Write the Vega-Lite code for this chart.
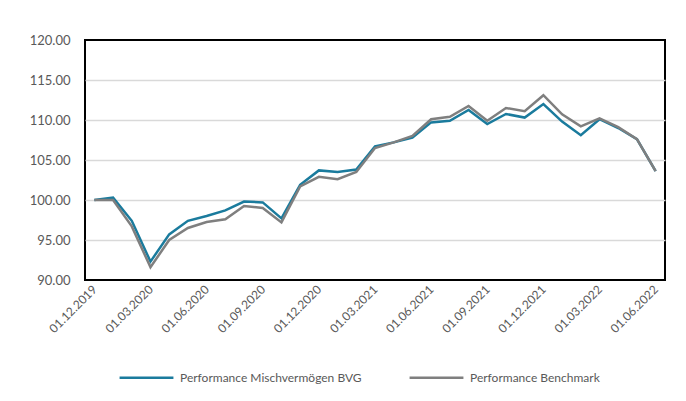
{
  "$schema": "https://vega.github.io/schema/vega-lite/v6.json",
  "width": 580,
  "height": 240,
  "autosize": "none",
  "padding": {"left": 85, "top": 40, "right": 21, "bottom": 121},
  "background": "white",
  "view": {"stroke": "#000000", "strokeWidth": 2},
  "config": {
    "font": "Lato",
    "view": {"stroke": "#000000", "strokeWidth": 2},
    "axis": {"labelFont": "Lato", "labelFontSize": 13, "labelColor": "#595959"},
    "legend": {"labelFont": "Lato", "labelFontSize": 12, "labelColor": "#595959"}
  },
  "data": {
    "values": [
      {"Datum": "01.12.2019", "Serie": "Performance Mischvermögen BVG", "Wert": 100.0},
      {"Datum": "01.01.2020", "Serie": "Performance Mischvermögen BVG", "Wert": 100.3},
      {"Datum": "01.02.2020", "Serie": "Performance Mischvermögen BVG", "Wert": 97.4},
      {"Datum": "01.03.2020", "Serie": "Performance Mischvermögen BVG", "Wert": 92.3},
      {"Datum": "01.04.2020", "Serie": "Performance Mischvermögen BVG", "Wert": 95.7},
      {"Datum": "01.05.2020", "Serie": "Performance Mischvermögen BVG", "Wert": 97.4},
      {"Datum": "01.06.2020", "Serie": "Performance Mischvermögen BVG", "Wert": 98.0},
      {"Datum": "01.07.2020", "Serie": "Performance Mischvermögen BVG", "Wert": 98.7},
      {"Datum": "01.08.2020", "Serie": "Performance Mischvermögen BVG", "Wert": 99.8},
      {"Datum": "01.09.2020", "Serie": "Performance Mischvermögen BVG", "Wert": 99.7},
      {"Datum": "01.10.2020", "Serie": "Performance Mischvermögen BVG", "Wert": 97.7},
      {"Datum": "01.11.2020", "Serie": "Performance Mischvermögen BVG", "Wert": 101.9},
      {"Datum": "01.12.2020", "Serie": "Performance Mischvermögen BVG", "Wert": 103.7},
      {"Datum": "01.01.2021", "Serie": "Performance Mischvermögen BVG", "Wert": 103.5},
      {"Datum": "01.02.2021", "Serie": "Performance Mischvermögen BVG", "Wert": 103.8},
      {"Datum": "01.03.2021", "Serie": "Performance Mischvermögen BVG", "Wert": 106.7},
      {"Datum": "01.04.2021", "Serie": "Performance Mischvermögen BVG", "Wert": 107.2},
      {"Datum": "01.05.2021", "Serie": "Performance Mischvermögen BVG", "Wert": 107.8},
      {"Datum": "01.06.2021", "Serie": "Performance Mischvermögen BVG", "Wert": 109.7},
      {"Datum": "01.07.2021", "Serie": "Performance Mischvermögen BVG", "Wert": 109.9},
      {"Datum": "01.08.2021", "Serie": "Performance Mischvermögen BVG", "Wert": 111.25},
      {"Datum": "01.09.2021", "Serie": "Performance Mischvermögen BVG", "Wert": 109.5},
      {"Datum": "01.10.2021", "Serie": "Performance Mischvermögen BVG", "Wert": 110.75},
      {"Datum": "01.11.2021", "Serie": "Performance Mischvermögen BVG", "Wert": 110.3},
      {"Datum": "01.12.2021", "Serie": "Performance Mischvermögen BVG", "Wert": 112.0},
      {"Datum": "01.01.2022", "Serie": "Performance Mischvermögen BVG", "Wert": 109.8},
      {"Datum": "01.02.2022", "Serie": "Performance Mischvermögen BVG", "Wert": 108.1},
      {"Datum": "01.03.2022", "Serie": "Performance Mischvermögen BVG", "Wert": 110.1},
      {"Datum": "01.04.2022", "Serie": "Performance Mischvermögen BVG", "Wert": 109.0},
      {"Datum": "01.05.2022", "Serie": "Performance Mischvermögen BVG", "Wert": 107.6},
      {"Datum": "01.06.2022", "Serie": "Performance Mischvermögen BVG", "Wert": 103.6},
      {"Datum": "01.12.2019", "Serie": "Performance Benchmark", "Wert": 100.0},
      {"Datum": "01.01.2020", "Serie": "Performance Benchmark", "Wert": 100.0},
      {"Datum": "01.02.2020", "Serie": "Performance Benchmark", "Wert": 96.7},
      {"Datum": "01.03.2020", "Serie": "Performance Benchmark", "Wert": 91.6},
      {"Datum": "01.04.2020", "Serie": "Performance Benchmark", "Wert": 95.0},
      {"Datum": "01.05.2020", "Serie": "Performance Benchmark", "Wert": 96.5},
      {"Datum": "01.06.2020", "Serie": "Performance Benchmark", "Wert": 97.25},
      {"Datum": "01.07.2020", "Serie": "Performance Benchmark", "Wert": 97.6},
      {"Datum": "01.08.2020", "Serie": "Performance Benchmark", "Wert": 99.25},
      {"Datum": "01.09.2020", "Serie": "Performance Benchmark", "Wert": 99.0},
      {"Datum": "01.10.2020", "Serie": "Performance Benchmark", "Wert": 97.2},
      {"Datum": "01.11.2020", "Serie": "Performance Benchmark", "Wert": 101.7},
      {"Datum": "01.12.2020", "Serie": "Performance Benchmark", "Wert": 102.9},
      {"Datum": "01.01.2021", "Serie": "Performance Benchmark", "Wert": 102.6},
      {"Datum": "01.02.2021", "Serie": "Performance Benchmark", "Wert": 103.5},
      {"Datum": "01.03.2021", "Serie": "Performance Benchmark", "Wert": 106.5},
      {"Datum": "01.04.2021", "Serie": "Performance Benchmark", "Wert": 107.2},
      {"Datum": "01.05.2021", "Serie": "Performance Benchmark", "Wert": 108.0},
      {"Datum": "01.06.2021", "Serie": "Performance Benchmark", "Wert": 110.1},
      {"Datum": "01.07.2021", "Serie": "Performance Benchmark", "Wert": 110.4},
      {"Datum": "01.08.2021", "Serie": "Performance Benchmark", "Wert": 111.75},
      {"Datum": "01.09.2021", "Serie": "Performance Benchmark", "Wert": 109.9},
      {"Datum": "01.10.2021", "Serie": "Performance Benchmark", "Wert": 111.5},
      {"Datum": "01.11.2021", "Serie": "Performance Benchmark", "Wert": 111.1},
      {"Datum": "01.12.2021", "Serie": "Performance Benchmark", "Wert": 113.1},
      {"Datum": "01.01.2022", "Serie": "Performance Benchmark", "Wert": 110.7},
      {"Datum": "01.02.2022", "Serie": "Performance Benchmark", "Wert": 109.2},
      {"Datum": "01.03.2022", "Serie": "Performance Benchmark", "Wert": 110.2},
      {"Datum": "01.04.2022", "Serie": "Performance Benchmark", "Wert": 109.1},
      {"Datum": "01.05.2022", "Serie": "Performance Benchmark", "Wert": 107.6},
      {"Datum": "01.06.2022", "Serie": "Performance Benchmark", "Wert": 103.6}
    ]
  },
  "mark": {"type": "line", "strokeWidth": 2.5, "strokeJoin": "miter"},
  "encoding": {
    "x": {
      "field": "Datum",
      "type": "ordinal",
      "sort": null,
      "scale": {"type": "point", "padding": 0.5},
      "axis": {
        "title": null,
        "values": ["01.12.2019", "01.03.2020", "01.06.2020", "01.09.2020", "01.12.2020", "01.03.2021", "01.06.2021", "01.09.2021", "01.12.2021", "01.03.2022", "01.06.2022"],
        "labelAngle": -45,
        "labelAlign": "right",
        "labelBaseline": "middle",
        "labelPadding": 7,
        "labelFontSize": 12,
        "ticks": false,
        "domain": false,
        "grid": false
      }
    },
    "y": {
      "field": "Wert",
      "type": "quantitative",
      "scale": {"domain": [90, 120], "nice": false, "zero": false},
      "axis": {
        "title": null,
        "values": [90, 95, 100, 105, 110, 115, 120],
        "format": ".2f",
        "ticks": false,
        "domain": false,
        "labelPadding": 15,
        "gridColor": "#d9d9d9",
        "gridWidth": 1.5,
        "gridOpacity": {"condition": {"test": "datum.value === 90 || datum.value === 120", "value": 0}, "value": 1}
      }
    },
    "color": {
      "field": "Serie",
      "type": "nominal",
      "sort": ["Performance Mischvermögen BVG", "Performance Benchmark"],
      "scale": {"domain": ["Performance Mischvermögen BVG", "Performance Benchmark"], "range": ["#1A7B9D", "#7F7F7F"]},
      "legend": {
        "title": null,
        "orient": "none",
        "legendX": 33,
        "legendY": 309,
        "direction": "horizontal",
        "columns": 2,
        "symbolType": "stroke",
        "symbolSize": 2900,
        "symbolStrokeWidth": 2.5,
        "labelOffset": 5,
        "labelLimit": 400,
        "columnPadding": 42,
        "padding": 0
      }
    }
  }
}
